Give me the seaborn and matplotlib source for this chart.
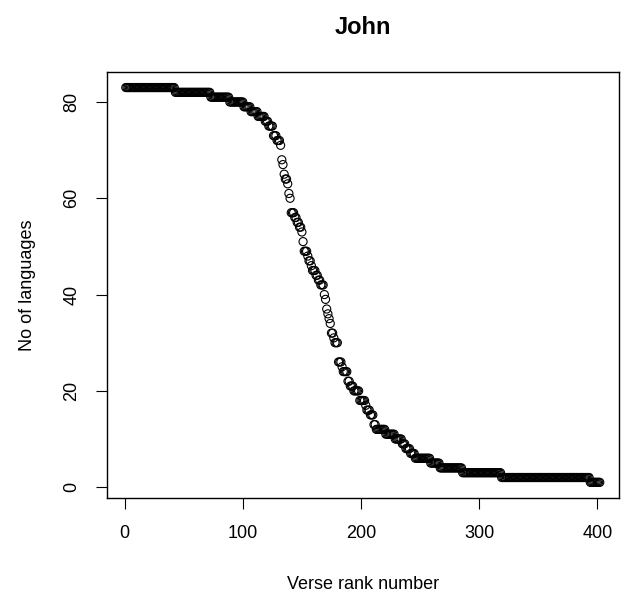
import numpy as np
import pandas as pd
import matplotlib
matplotlib.use("Agg")
import matplotlib.pyplot as plt
import seaborn as sns

# number of languages (step levels) and how many verses sit on each level,
# read off the chart in rank order
levels = [83, 82, 81, 80, 79, 78, 77, 76, 75, 73, 72, 71, 68, 67, 65, 64, 63,
          61, 60, 57, 56, 55, 54, 53, 51, 49, 48, 47, 46, 45, 44, 43, 42, 40,
          39, 37, 36, 35, 34, 32, 31, 30, 26, 25, 24, 22, 21, 20, 18, 17, 16,
          15, 13, 12, 11, 10, 9, 8, 7, 6, 5, 4, 3, 2, 1]
counts = [42, 30, 16, 12, 6, 6, 6, 3, 4, 3, 3, 1, 1, 1, 1, 2, 1,
          1, 1, 3, 2, 2, 2, 1, 1, 3, 1, 2, 1, 3, 2, 2, 3, 1,
          1, 1, 1, 1, 1, 2, 1, 3, 3, 1, 4, 2, 3, 5, 5, 1, 3,
          3, 2, 8, 8, 6, 3, 4, 4, 13, 8, 19, 33, 75, 9]

n_lang = np.repeat(levels, counts)
df = pd.DataFrame({"rank": np.arange(1, len(n_lang) + 1), "languages": n_lang})

sns.set_style("white")
plt.rcParams['font.family'] = ['Liberation Sans', 'DejaVu Sans']
plt.rcParams['text.color'] = 'black'
plt.rcParams['axes.labelcolor'] = 'black'
plt.rcParams['xtick.color'] = 'black'
plt.rcParams['ytick.color'] = 'black'

fig = plt.figure(figsize=(6.32, 5.93), dpi=100)
ax = fig.add_axes([0.169, 0.160, 0.810, 0.719])

sns.scatterplot(data=df, x="rank", y="languages", ax=ax, marker="o",
                facecolor="none", edgecolor="black", linewidth=0.8, s=34)

n = len(df)
pad = 0.04 * (n - 1)
ax.set_xlim(1 - pad, n + pad)
ax.set_ylim(1 - 0.04 * 82, 83 + 0.04 * 82)
ax.set_xticks([0, 100, 200, 300, 400])
ax.set_yticks([0, 20, 40, 60, 80])
ax.tick_params(axis="both", direction="out", length=8, width=0.8,
               labelsize=13, pad=11, color="black", left=True, bottom=True)
plt.setp(ax.get_yticklabels(), rotation=90, va="center")

for sp in ax.spines.values():
    sp.set_visible(True)
    sp.set_color("black")
    sp.set_linewidth(1.0)

ax.set_xlabel("Verse rank number", fontsize=13, labelpad=25)
ax.set_ylabel("No of languages", fontsize=13, labelpad=20)
ax.set_title("John", fontsize=17, fontweight="bold", pad=27)

fig.savefig("out.png", dpi=100)
